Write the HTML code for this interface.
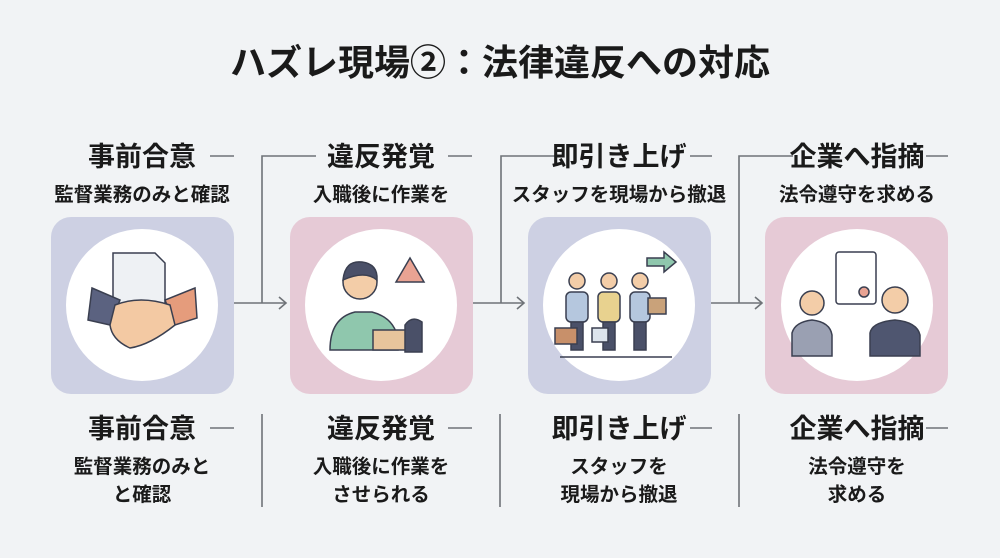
<!DOCTYPE html>
<html><head><meta charset="utf-8"><style>
html,body{margin:0;padding:0;background:#f1f3f5;}
svg{display:block}
text{font-family:"Liberation Sans","Noto Sans CJK JP",sans-serif;font-weight:700;fill:#1a1a1a;text-anchor:middle}
</style></head><body>
<svg width="1000" height="558" viewBox="0 0 1000 558">
<rect width="1000" height="558" fill="#f1f3f5"/>
<text x="500" y="75" font-size="36">ハズレ現場②：法律違反への対応</text>

<g stroke="#6f7378" stroke-width="1.6" fill="none">
<line x1="210" y1="156" x2="234" y2="156"/>
<path d="M316 156 H262 V303"/><line x1="234" y1="303" x2="285" y2="303"/><path d="M279 297 L286 303 L279 309"/>
<line x1="448" y1="156" x2="472" y2="156"/>
<path d="M555 156 H501 V303"/><line x1="472" y1="303" x2="523" y2="303"/><path d="M517 297 L524 303 L517 309"/>
<line x1="690" y1="156" x2="712" y2="156"/>
<path d="M793 156 H739 V303"/><line x1="710" y1="303" x2="761" y2="303"/><path d="M755 297 L762 303 L755 309"/>
<line x1="926" y1="156" x2="948" y2="156"/>
<line x1="210" y1="428" x2="234" y2="428"/>
<line x1="448" y1="428" x2="472" y2="428"/>
<line x1="690" y1="428" x2="712" y2="428"/>
<line x1="926" y1="428" x2="948" y2="428"/>
<line x1="262" y1="414" x2="262" y2="507"/>
<line x1="500" y1="414" x2="500" y2="507"/>
<line x1="739" y1="414" x2="739" y2="507"/>
</g>

<g font-size="27">
<text x="142" y="166">事前合意</text>
<text x="381" y="166">違反発覚</text>
<text x="619" y="166">即引き上げ</text>
<text x="857" y="166">企業へ指摘</text>
<text x="142" y="438">事前合意</text>
<text x="381" y="438">違反発覚</text>
<text x="619" y="438">即引き上げ</text>
<text x="857" y="438">企業へ指摘</text>
</g>
<g font-size="19.5">
<text x="142" y="201">監督業務のみと確認</text>
<text x="381" y="201">入職後に作業を</text>
<text x="619" y="201">スタッフを現場から撤退</text>
<text x="857" y="201">法令遵守を求める</text>
<text x="142" y="473">監督業務のみと</text>
<text x="142" y="501">と確認</text>
<text x="381" y="473">入職後に作業を</text>
<text x="381" y="501">させられる</text>
<text x="619" y="473">スタッフを</text>
<text x="619" y="501">現場から撤退</text>
<text x="857" y="473">法令遵守を</text>
<text x="857" y="501">求める</text>
</g>

<rect x="51" y="217" width="183" height="177" rx="20" fill="#cdd0e3"/>
<rect x="290" y="217" width="183" height="177" rx="20" fill="#e6cad6"/>
<rect x="528" y="217" width="183" height="177" rx="20" fill="#cdd0e3"/>
<rect x="765" y="217" width="183" height="177" rx="20" fill="#e6cad6"/>
<g fill="#fff"><circle cx="142" cy="305" r="76"/><circle cx="381" cy="305" r="76"/><circle cx="619" cy="305" r="76"/><circle cx="857" cy="305" r="76"/></g>

<!-- icon 1 handshake -->
<g stroke="#3a3f50" stroke-width="1.5">
<path d="M113 253 H155 L165 263 V305 H113 Z" fill="#eef1f4"/>
<path d="M92 288 L120 300 L110 325 L88 320 Z" fill="#5b6280"/>
<path d="M195 288 L165 300 L175 325 L197 318 Z" fill="#e59c7c"/>
<path d="M115 305 Q140 295 170 305 L175 325 Q150 345 130 348 Q112 340 110 325 Z" fill="#f3c9a3"/>
</g>
<!-- icon 2 -->
<g stroke="#3a3f50" stroke-width="1.5">
<path d="M330 350 Q330 318 355 312 H372 Q395 318 398 340 V350 Z" fill="#8fc7ad"/>
<circle cx="360" cy="282" r="17" fill="#f3cda8"/>
<path d="M343 280 Q345 260 362 262 Q378 264 377 280 Q365 270 343 280Z" fill="#4a5068"/>
<path d="M396 282 L410 258 L424 282 Z" fill="#e9a393"/>
<rect x="373" y="330" width="35" height="20" fill="#e7c49c"/>
<path d="M405 352 V325 Q412 315 422 322 V352Z" fill="#4a5068"/>
</g>
<!-- icon 3 -->
<g stroke="#3a3f50" stroke-width="1.5">
<path d="M647 258 H664 V252 L676 262 L664 272 V266 H647 Z" fill="#8fc7ad"/>
<rect x="566" y="292" width="22" height="30" rx="5" fill="#b5c7de"/><circle cx="577" cy="281" r="8" fill="#f3cda8"/>
<rect x="571" y="322" width="12" height="28" fill="#4a5068"/>
<rect x="598" y="292" width="22" height="30" rx="5" fill="#e8d28f"/><circle cx="609" cy="281" r="8" fill="#f3cda8"/>
<rect x="603" y="322" width="12" height="28" fill="#4a5068"/>
<rect x="630" y="292" width="20" height="30" rx="5" fill="#b5c7de"/><circle cx="640" cy="281" r="8" fill="#f3cda8"/>
<rect x="634" y="322" width="12" height="28" fill="#4a5068"/>
<rect x="648" y="298" width="18" height="16" fill="#c9a27a"/>
<rect x="555" y="328" width="22" height="16" fill="#c8906a"/>
<rect x="592" y="328" width="16" height="14" fill="#dde4ec"/>
<line x1="560" y1="357" x2="672" y2="357"/>
</g>
<!-- icon 4 -->
<g stroke="#3a3f50" stroke-width="1.5">
<rect x="836" y="252" width="40" height="52" rx="3" fill="#fff"/>
<circle cx="864" cy="292" r="5" fill="#e9a393"/>
<path d="M792 356 V333 Q795 322 812 320 Q830 322 832 335 V356Z" fill="#9aa0b2"/>
<circle cx="812" cy="303" r="12" fill="#f3cda8"/>
<path d="M870 356 V333 Q872 322 895 320 Q917 322 920 335 V356Z" fill="#4f5670"/>
<circle cx="895" cy="300" r="13" fill="#f3cda8"/>
</g>
</svg>
</body></html>
